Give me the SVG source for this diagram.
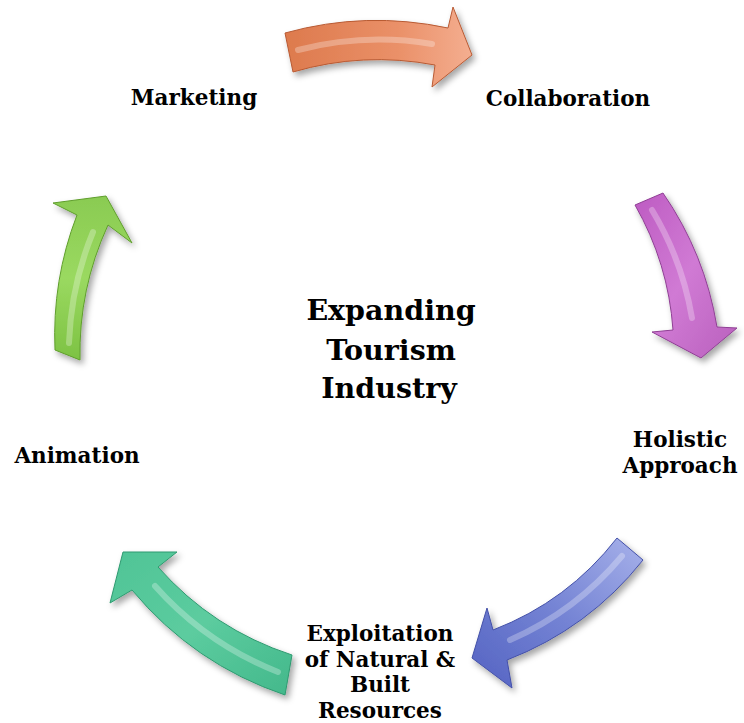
<svg xmlns="http://www.w3.org/2000/svg" width="744" height="723" viewBox="0 0 744 723">
<defs>
<filter id="sh" x="-20%" y="-20%" width="140%" height="140%">
<feDropShadow dx="3" dy="4" stdDeviation="3" flood-color="#000" flood-opacity="0.35"/>
</filter>
<linearGradient id="gOr" x1="0" y1="0" x2="1" y2="0">
<stop offset="0" stop-color="#dd7a4d"/><stop offset="0.6" stop-color="#ea9068"/><stop offset="1" stop-color="#f4ae90"/>
</linearGradient>
<linearGradient id="gPu" x1="0" y1="0" x2="1" y2="1">
<stop offset="0" stop-color="#bd5bc2"/><stop offset="0.5" stop-color="#d07ad4"/><stop offset="1" stop-color="#b960bd"/>
</linearGradient>
<linearGradient id="gBl" x1="1" y1="0" x2="0" y2="1">
<stop offset="0" stop-color="#a7b1ea"/><stop offset="0.5" stop-color="#7483d4"/><stop offset="1" stop-color="#5463c2"/>
</linearGradient>
<linearGradient id="gTe" x1="1" y1="1" x2="0" y2="0">
<stop offset="0" stop-color="#43b88b"/><stop offset="0.5" stop-color="#5ccc9f"/><stop offset="1" stop-color="#4fc496"/>
</linearGradient>
<linearGradient id="gGr" x1="0" y1="1" x2="0" y2="0">
<stop offset="0" stop-color="#7dc243"/><stop offset="0.5" stop-color="#9ad960"/><stop offset="1" stop-color="#8acb52"/>
</linearGradient>
<style>
.lbl{font-family:"DejaVu Serif","Liberation Serif",serif;font-weight:bold;font-size:21.5px;fill:#000;text-anchor:middle}
.ttl{font-family:"DejaVu Serif","Liberation Serif",serif;font-weight:bold;font-size:28.5px;fill:#000;text-anchor:middle}
.hl{fill:none;stroke:#fff;stroke-opacity:0.28;stroke-width:6;stroke-linecap:round}
.arr{filter:url(#sh);stroke-width:1}
</style>
</defs>
<g id="connectors">
<g id="arrow-orange">
<path class="arr" fill="url(#gOr)" stroke="#b85a33" d="M285,33 A343,343 0 0 1 448,28 L453,7 L472,55 L432,87 L435,65 A305,305 0 0 0 293,72 Z"/>
<path class="hl" d="M298,50 A324,324 0 0 1 432,44"/>
</g>
<g id="arrow-purple">
<path class="arr" fill="url(#gPu)" stroke="#8f3f94" d="M663,193 A330,330 0 0 1 717,327 L737,328 L701,358 L652,332 L673,330 A293,293 0 0 0 635,205 Z"/>
<path class="hl" d="M652,210 A311,311 0 0 1 692,318"/>
</g>
<g id="arrow-blue">
<path class="arr" fill="url(#gBl)" stroke="#4350a8" d="M643,560 A321,321 0 0 1 507,660 L512,688 L472,658 L487,608 L493,630 A288,288 0 0 0 617,538 Z"/>
<path class="hl" d="M622,556 A305,305 0 0 1 510,640"/>
</g>
<g id="arrow-teal">
<path class="arr" fill="url(#gTe)" stroke="#2e9a70" d="M285,695 A342,342 0 0 1 132,590 L110,603 L123,552 L177,552 L158,567 A305,305 0 0 0 292,655 Z"/>
<path class="hl" d="M278,672 A323,323 0 0 1 155,586"/>
</g>
<g id="arrow-green">
<path class="arr" fill="url(#gGr)" stroke="#5f9e2c" d="M55,350 A335,335 0 0 1 77,215 L53,203 L106,196 L132,243 L108,225 A307,307 0 0 0 80,360 Z"/>
<path class="hl" d="M69,343 A320,320 0 0 1 93,232"/>
</g>
</g>
<g id="center">
<text class="ttl" x="391" y="320">Expanding</text>
<text class="ttl" x="391" y="360">Tourism</text>
<text class="ttl" x="389" y="398">Industry</text>
</g>
<g id="n-marketing"><text class="lbl" x="194" y="105">Marketing</text></g>
<g id="n-collaboration"><text class="lbl" x="568" y="106">Collaboration</text></g>
<g id="n-holistic"><text class="lbl" x="680" y="447">Holistic</text><text class="lbl" x="680" y="472.5">Approach</text></g>
<g id="n-animation"><text class="lbl" x="77" y="463">Animation</text></g>
<g id="n-exploitation">
<text class="lbl" x="380" y="641">Exploitation</text>
<text class="lbl" x="380" y="666.5">of Natural &amp;</text>
<text class="lbl" x="380" y="692">Built</text>
<text class="lbl" x="380" y="717.5">Resources</text>
</g>
</svg>
